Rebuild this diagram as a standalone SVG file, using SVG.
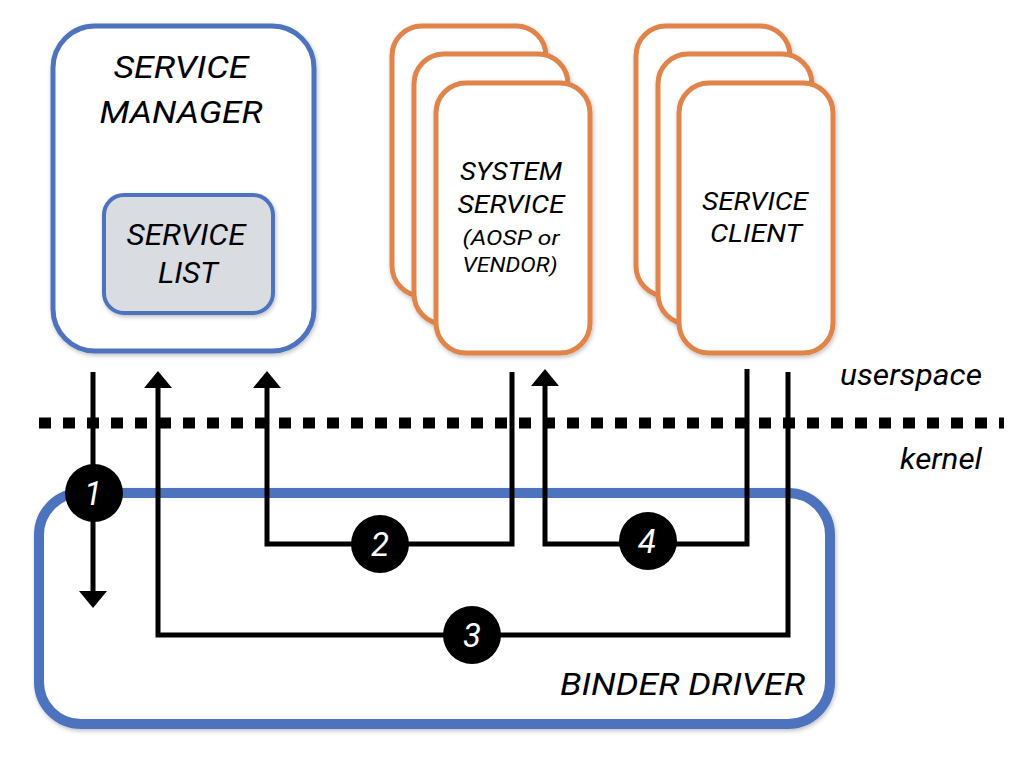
<svg xmlns="http://www.w3.org/2000/svg" width="1016" height="758" viewBox="0 0 1016 758">
<defs>
<style>
.lbl{font-family:Roboto,"Liberation Sans",sans-serif;font-style:italic;fill:#000;text-anchor:middle}
.blue{fill:#fff;stroke:#4E73BE}
.card{fill:#fff;stroke:#E1844A;stroke-width:5}
.wire{fill:none;stroke:#000;stroke-width:5;stroke-linejoin:miter;stroke-linecap:butt}
.badge circle{fill:#000}
.badge text{font-family:Roboto,"Liberation Sans",sans-serif;font-style:italic;font-size:33px;fill:#fff;text-anchor:middle}
</style>
<filter id="sh" x="-10%" y="-10%" width="130%" height="130%">
<feDropShadow dx="1" dy="2" stdDeviation="2" flood-color="#000" flood-opacity="0.25"/>
</filter>
<marker id="ah" markerUnits="userSpaceOnUse" markerWidth="18" markerHeight="30" viewBox="0 0 18 30" refX="0" refY="15" orient="auto">
<path d="M0,1 L17,15 L0,29 z" fill="#000"/>
</marker>
</defs>

<g id="binder-driver">
<rect x="39" y="493" width="791" height="231" rx="42" class="blue" stroke-width="10" filter="url(#sh)"/>
<text x="560" y="695" class="lbl" style="text-anchor:start" font-size="31" textLength="245" lengthAdjust="spacingAndGlyphs">BINDER DRIVER</text>
</g>

<g id="service-manager">
<rect x="53" y="26" width="261" height="325" rx="42" class="blue" stroke-width="5" filter="url(#sh)"/>
<text x="181" y="78" class="lbl" font-size="32" textLength="135" lengthAdjust="spacingAndGlyphs">SERVICE</text>
<text x="181" y="123" class="lbl" font-size="32" textLength="163" lengthAdjust="spacingAndGlyphs">MANAGER</text>
</g>

<g id="service-list">
<rect x="104" y="195" width="169" height="118" rx="20" fill="#D9DCE1" stroke="#4E73BE" stroke-width="4" filter="url(#sh)"/>
<text x="186" y="245" class="lbl" font-size="29" textLength="119" lengthAdjust="spacingAndGlyphs">SERVICE</text>
<text x="188" y="283" class="lbl" font-size="29" textLength="60" lengthAdjust="spacingAndGlyphs">LIST</text>
</g>

<g id="system-service">
<rect x="392" y="26" width="154" height="270" rx="30" class="card" filter="url(#sh)"/>
<rect x="414" y="54" width="154" height="270" rx="30" class="card" filter="url(#sh)"/>
<rect x="436" y="83" width="154" height="270" rx="30" class="card" filter="url(#sh)"/>
<text x="511" y="180" class="lbl" font-size="25" textLength="102" lengthAdjust="spacingAndGlyphs">SYSTEM</text>
<text x="511" y="213" class="lbl" font-size="25" textLength="107" lengthAdjust="spacingAndGlyphs">SERVICE</text>
<text x="511" y="245" class="lbl" font-size="21" textLength="97" lengthAdjust="spacingAndGlyphs">(AOSP or</text>
<text x="510" y="272" class="lbl" font-size="21" textLength="95" lengthAdjust="spacingAndGlyphs">VENDOR)</text>
</g>

<g id="service-client">
<rect x="636" y="26" width="154" height="270" rx="30" class="card" filter="url(#sh)"/>
<rect x="658" y="54" width="154" height="270" rx="30" class="card" filter="url(#sh)"/>
<rect x="679" y="83" width="154" height="270" rx="30" class="card" filter="url(#sh)"/>
<text x="755" y="210" class="lbl" font-size="25" textLength="106" lengthAdjust="spacingAndGlyphs">SERVICE</text>
<text x="756" y="242" class="lbl" font-size="25" textLength="92" lengthAdjust="spacingAndGlyphs">CLIENT</text>
</g>

<g id="boundary">
<line x1="39" y1="423" x2="1004" y2="423" stroke="#000" stroke-width="11" stroke-dasharray="12 12"/>
<text x="840" y="385" class="lbl" style="text-anchor:start" font-size="30" textLength="142" lengthAdjust="spacingAndGlyphs">userspace</text>
<text x="900" y="469" class="lbl" style="text-anchor:start" font-size="30" textLength="82" lengthAdjust="spacingAndGlyphs">kernel</text>
</g>

<g id="connectors">
<line x1="93" y1="372" x2="93" y2="591" class="wire" marker-end="url(#ah)"/>
<polyline points="788,372 788,635 158,635 158,388" class="wire" marker-end="url(#ah)"/>
<polyline points="512,372 512,544 267,544 267,388" class="wire" marker-end="url(#ah)"/>
<polyline points="747,369 747,544 545,544 545,386" class="wire" marker-end="url(#ah)"/>
</g>

<g id="badges">
<g class="badge"><circle cx="94" cy="493" r="29"/><text x="93" y="505">1</text></g>
<g class="badge"><circle cx="380" cy="544" r="29"/><text x="380" y="556">2</text></g>
<g class="badge"><circle cx="472" cy="635" r="29"/><text x="472" y="647">3</text></g>
<g class="badge"><circle cx="648" cy="541" r="29"/><text x="647" y="553">4</text></g>
</g>
</svg>
